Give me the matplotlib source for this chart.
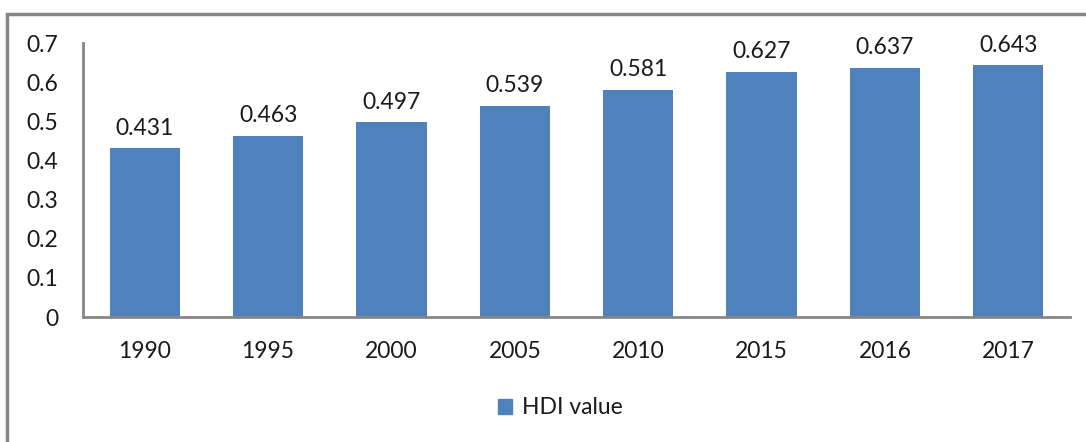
import matplotlib
matplotlib.use("Agg")
import matplotlib.pyplot as plt
from matplotlib.patches import Rectangle

years = ["1990", "1995", "2000", "2005", "2010", "2015", "2016", "2017"]
hdi = [0.431, 0.463, 0.497, 0.539, 0.581, 0.627, 0.637, 0.643]
series_name = "HDI value"
yticks = [0, 0.1, 0.2, 0.3, 0.4, 0.5, 0.6, 0.7]

plt.rcParams['font.family'] = ['Lato', 'DejaVu Sans']
FS = 16.5
TXT = '#1a1a1a'

W, H = 1086, 442
fig = plt.figure(figsize=(W/100, H/100), dpi=100)
# outer chart border
fig.patches.append(Rectangle((7/W, -0.05), 1.2, (H-14)/H + 0.05, transform=fig.transFigure,
                             fill=False, edgecolor='#868686', linewidth=2.5))

ax = fig.add_axes([83/W, 1-317/H, (1070-83)/W, (317-43)/H])
x = range(len(years))
bars = ax.bar(x, hdi, width=0.57, color='#4F81BD')
ax.set_xlim(-0.5, len(years)-0.5)
ax.set_ylim(0, 0.7)
ax.set_yticks(yticks)
ax.set_yticklabels([("%g" % v) for v in yticks], fontsize=FS, color=TXT)
ax.set_xticks(list(x))
ax.set_xticklabels(years, fontsize=FS, color=TXT)
ax.tick_params(axis='both', length=0)
ax.tick_params(axis='y', pad=18)
ax.tick_params(axis='x', pad=17)
for s in ['top', 'right']:
    ax.spines[s].set_visible(False)
for s in ['left', 'bottom']:
    ax.spines[s].set_color('#868686')
    ax.spines[s].set_linewidth(2)

for i, v in enumerate(hdi):
    ax.annotate("%.3f" % v, (i, v), xytext=(0, 7), textcoords='offset points',
                ha='center', va='bottom', fontsize=FS, color=TXT)

leg = fig.legend([Rectangle((0, 0), 1, 1, color='#4F81BD')], [series_name],
                 loc='center', bbox_to_anchor=(560/W, 1-408/H), frameon=False,
                 fontsize=FS, handlelength=0.65, handleheight=0.65, handletextpad=0.4)
for t in leg.get_texts():
    t.set_color(TXT)

fig.savefig("out.png", dpi=100)
